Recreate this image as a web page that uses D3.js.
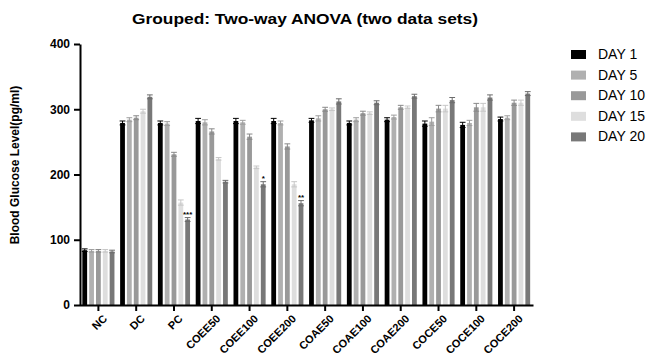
<!DOCTYPE html>
<html>
<head>
<meta charset="utf-8">
<script src="https://cdn.jsdelivr.net/npm/d3@7"></script>
<style>
  body { margin: 0; background: #fff; }
  text { font-family: "Liberation Sans", Arial, sans-serif; }
</style>
</head>
<body>
<div id="chart"></div>
<script>
// groups on the x axis
var categories = ["NC", "DC", "PC", "COEE50", "COEE100", "COEE200", "COAE50", "COAE100", "COAE200", "COCE50", "COCE100", "COCE200"];
var seriesNames = ["DAY 1", "DAY 5", "DAY 10", "DAY 15", "DAY 20"];

// means
var day1  = [84, 279, 279, 282, 282, 282, 283, 279, 284, 278, 276, 285];
var day5  = [83, 284, 278, 280, 280, 279, 286, 284, 288, 281, 279, 287];
var day10 = [83, 287, 231, 266, 258, 243, 300, 294, 303, 301, 303, 310];
var day15 = [83, 297, 157, 224, 211, 185, 300, 294, 303, 301, 303, 310];
var day20 = [82, 319, 131, 189, 185, 156, 312, 310, 320, 314, 318, 324];

// error bars (SEM)
var err1  = [2, 3, 3, 4, 4, 4, 3, 3, 3, 4, 4, 3];
var err5  = [2, 3, 3, 4, 3, 3, 4, 3, 3, 6, 4, 3];
var err10 = [2, 3, 3, 4, 4, 4, 3, 3, 3, 5, 6, 4];
var err15 = [2, 3, 4, 2, 2, 4, 2, 2, 2, 5, 6, 4];
var err20 = [2, 3, 3, 2, 4, 4, 4, 3, 3, 4, 4, 3];

var yTicks = [0, 100, 200, 300, 400];

// significance stars: [category, series, label]
var stars = [["PC", "DAY 20", "***"], ["COEE100", "DAY 20", "*"], ["COEE200", "DAY 20", "**"]];

var values = [day1, day5, day10, day15, day20];
var errors = [err1, err5, err10, err15, err20];
var colors = ["#000000", "#b0b0b0", "#999999", "#dedede", "#787878"];

var width = 655, height = 356;
var svg = d3.select("#chart").append("svg")
  .attr("width", width)
  .attr("height", height);

var x0 = d3.scaleBand()
  .domain(categories)
  .range([79.5, 533])
  .paddingInner(0.15)
  .paddingOuter(0.075);

var x1 = d3.scaleBand()
  .domain(seriesNames)
  .range([0, x0.bandwidth()])
  .paddingInner(0.3);

var y = d3.scaleLinear()
  .domain([0, 400])
  .range([305, 44]);

var color = d3.scaleOrdinal().domain(seriesNames).range(colors);

// title
svg.append("text")
  .attr("x", 132)
  .attr("y", 24)
  .attr("textLength", 346)
  .attr("lengthAdjust", "spacingAndGlyphs")
  .style("font-size", "14.5px")
  .style("font-weight", "bold")
  .text("Grouped: Two-way ANOVA (two data sets)");

// bars
var data = [];
categories.forEach(function(c, i) {
  seriesNames.forEach(function(s, j) {
    data.push({ cat: c, series: s, value: values[j][i], err: errors[j][i] });
  });
});

var g = svg.append("g");

g.selectAll("rect")
  .data(data)
  .enter()
  .append("rect")
    .attr("x", function(d) { return x0(d.cat) + x1(d.series); })
    .attr("y", function(d) { return y(d.value); })
    .attr("width", x1.bandwidth())
    .attr("height", function(d) { return y(0) - y(d.value); })
    .style("fill", function(d) { return color(d.series); });

// error bars
var eb = g.selectAll(".eb")
  .data(data)
  .enter()
  .append("g")
    .attr("class", "eb")
    .attr("stroke", function(d) { return d.series == "DAY 1" ? "#000" : d3.color(color(d.series)).darker(0.3); })
    .attr("stroke-width", 1);

eb.append("line")
  .attr("x1", function(d) { return x0(d.cat) + x1(d.series) + x1.bandwidth() / 2; })
  .attr("x2", function(d) { return x0(d.cat) + x1(d.series) + x1.bandwidth() / 2; })
  .attr("y1", function(d) { return y(d.value - d.err); })
  .attr("y2", function(d) { return y(d.value + d.err); });

eb.append("line")
  .attr("x1", function(d) { return x0(d.cat) + x1(d.series) - 0.5; })
  .attr("x2", function(d) { return x0(d.cat) + x1(d.series) + x1.bandwidth() + 0.5; })
  .attr("y1", function(d) { return y(d.value + d.err); })
  .attr("y2", function(d) { return y(d.value + d.err); });

eb.append("line")
  .attr("x1", function(d) { return x0(d.cat) + x1(d.series) - 0.5; })
  .attr("x2", function(d) { return x0(d.cat) + x1(d.series) + x1.bandwidth() + 0.5; })
  .attr("y1", function(d) { return y(d.value - d.err); })
  .attr("y2", function(d) { return y(d.value - d.err); });

// significance marks
svg.selectAll(".star")
  .data(stars)
  .enter()
  .append("text")
    .attr("class", "star")
    .attr("x", function(d) { return x0(d[0]) + x1(d[1]) + x1.bandwidth() / 2; })
    .attr("y", function(d) {
      var i = categories.indexOf(d[0]), j = seriesNames.indexOf(d[1]);
      return y(values[j][i] + errors[j][i]) - 1;
    })
    .attr("text-anchor", "middle")
    .style("font-size", "8px")
    .style("font-weight", "bold")
    .text(function(d) { return d[2]; });

// y axis
var yAxis = svg.append("g")
  .attr("transform", "translate(80,0)")
  .call(d3.axisLeft(y).tickValues(yTicks).tickSize(6).tickSizeOuter(0).tickPadding(4));
yAxis.select(".domain").attr("stroke-width", 2);
yAxis.selectAll(".tick line").attr("stroke-width", 2);
yAxis.selectAll("text")
  .style("font-size", "12px")
  .style("font-weight", "bold")
  .style("font-family", "'Liberation Sans', Arial, sans-serif");

// x axis
var xAxis = svg.append("g")
  .attr("transform", "translate(0,305)")
  .call(d3.axisBottom(x0).tickSize(6).tickSizeOuter(0));
xAxis.select(".domain").attr("stroke-width", 2);
xAxis.selectAll(".tick line").attr("stroke-width", 2);
xAxis.selectAll("text")
  .style("font-size", "11px")
  .style("font-weight", "bold")
  .style("font-family", "'Liberation Sans', Arial, sans-serif")
  .attr("text-anchor", "end")
  .attr("dy", "0")
  .attr("transform", "translate(3,8) rotate(-45)");

// y axis label
svg.append("text")
  .attr("transform", "translate(19,165) rotate(-90)")
  .attr("text-anchor", "middle")
  .style("font-size", "12px")
  .style("font-weight", "bold")
  .text("Blood Glucose Level(pg/ml)");

// legend
var legend = svg.append("g")
  .selectAll("g")
  .data(seriesNames)
  .enter()
  .append("g")
    .attr("transform", function(d, i) { return "translate(571," + (54 + i * 20.6) + ")"; });

legend.append("rect")
  .attr("x", 0)
  .attr("y", -4)
  .attr("width", 15)
  .attr("height", 9)
  .style("fill", function(d) { return color(d); });

legend.append("text")
  .attr("x", 27)
  .attr("y", 5)
  .style("font-size", "14px")
  .text(function(d) { return d; });
</script>
</body>
</html>
